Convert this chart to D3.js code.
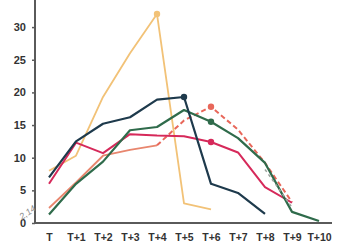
<!DOCTYPE html>
<html>
<head>
<meta charset="utf-8">
<script src="https://cdn.jsdelivr.net/npm/d3@7"></script>
<style>
  body { margin: 0; background: #fff; }
  svg { display: block; font-family: "Liberation Sans", Arial, sans-serif; }
</style>
</head>
<body>
<svg id="chart" width="350" height="250"></svg>
<script>
// periods on the x axis
const periods = ['T', 'T+1', 'T+2', 'T+3', 'T+4', 'T+5', 'T+6', 'T+7', 'T+8', 'T+9', 'T+10'];
const yTicks = [0, 5, 10, 15, 20, 25, 30];

// series values, index = period
const orange = [8, 10.3, 19.3, 26, 32, 3, 2.1];
const navy = [7, 12.5, 15.2, 16.2, 18.9, 19.3, 6, 4.6, 1.4];
const crimson = [6, 12.3, 10.7, 13.6, 13.4, 13.3, 12.4, 10.8, 5.5, 3.1];
const salmon = [2.3, 6.2, 10.3, 11.2, 11.9];
const salmonDash = [null, null, null, null, 11.9, 15.7, 17.8, 14.3, 9.2, 3.2];
const green = [1.3, 6, 9.4, 14.2, 14.7, 17.3, 15.5, 13, 9.2, 1.7, 0.3];
const greyDash = [null, null, null, null, null, null, null, null, 8.2, 2.4];

const svg = d3.select('#chart');
const margin = {top: 0, left: 35, bottom: 27};
const height = 250 - margin.bottom;

const x = d3.scalePoint()
  .domain(periods)
  .range([49, 319]);

const y = d3.scaleLinear()
  .domain([0, 34.15])
  .range([height, 0]);

// y axis
const yAxis = svg.append('g')
  .attr('transform', `translate(${margin.left},0)`)
  .call(d3.axisLeft(y).tickValues(yTicks).tickSize(3).tickPadding(6));
yAxis.select('.domain').attr('stroke', '#5a5a5a').attr('stroke-width', 2).attr('d', `M0,0V${height}`);
yAxis.selectAll('.tick line').attr('stroke', '#5a5a5a').attr('stroke-width', 1.5);
yAxis.selectAll('.tick text').attr('fill', '#333').style('font-size', '11px').style('font-weight', 'bold');

// x axis
const xAxis = svg.append('g')
  .attr('transform', `translate(0,${height})`)
  .call(d3.axisBottom(x).tickSize(0).tickPadding(11));
xAxis.select('.domain').attr('stroke', '#5a5a5a').attr('stroke-width', 2).attr('d', `M${margin.left},0H332`);
xAxis.selectAll('.tick text').attr('fill', '#333').style('font-size', '10.5px').style('font-weight', 'bold');

const line = d3.line()
  .defined((d) => d !== null)
  .x((d, i) => x(periods[i]))
  .y((d) => y(d));

function draw(vals, color, width, dash) {
  svg.append('path')
    .datum(vals)
    .attr('fill', 'none')
    .attr('stroke', color)
    .attr('stroke-width', width)
    .attr('stroke-linejoin', 'round')
    .attr('stroke-dasharray', dash || null)
    .attr('d', line);
}

function dot(vals, i, color) {
  svg.append('circle')
    .attr('cx', x(periods[i]))
    .attr('cy', y(vals[i]))
    .attr('r', 3.2)
    .attr('fill', color);
}

draw(salmon, '#e8866e', 1.8);
draw(salmonDash, '#e8675a', 2, '5,3');
draw(orange, '#f2c277', 1.8);
draw(crimson, '#d6295a', 2);
draw(green, '#2f6b4b', 2.2);
draw(greyDash, '#9aa39c', 1.5, '3,3');
draw(navy, '#1e3a4c', 2.2);

dot(orange, 4, '#f2c277');
dot(navy, 5, '#1e3a4c');
dot(salmonDash, 6, '#e8675a');
dot(green, 6, '#2f6b4b');
dot(crimson, 6, '#d6295a');

// handwritten note near origin
svg.append('text')
  .attr('transform', 'translate(22,220) rotate(-35)')
  .attr('fill', '#8a8a8a')
  .style('font-size', '9px')
  .style('font-style', 'italic')
  .text('2,14');
</script>
</body>
</html>
